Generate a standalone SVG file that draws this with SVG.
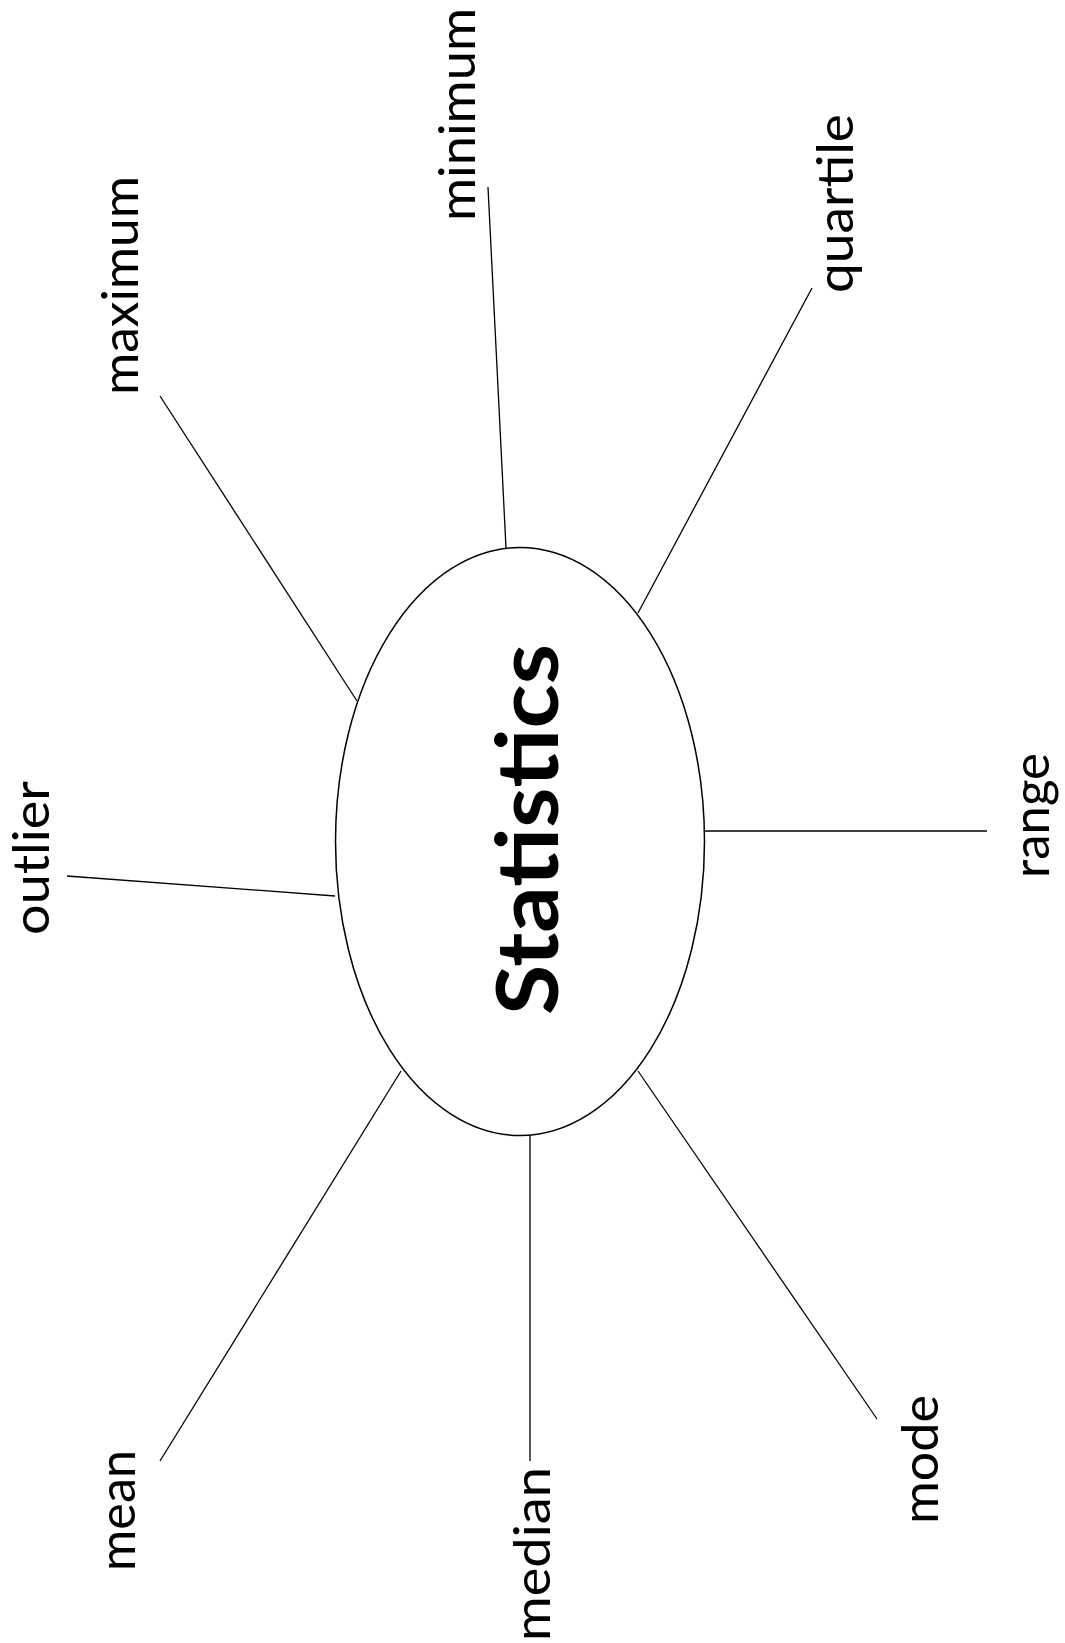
<svg xmlns="http://www.w3.org/2000/svg" width="1065" height="1643" viewBox="0 0 1065 1643">
<style>
.lbl{font-family:"Lato","Liberation Sans",sans-serif;font-size:50.5px;fill:#000}
.ttl{font-family:"Lato","Liberation Sans",sans-serif;font-size:87px;font-weight:bold;fill:#000}
.cn line{stroke:#000;stroke-width:1.3;fill:none}
</style>
<rect width="1065" height="1643" fill="#fff"/>
<g id="connectors" class="cn">
<line x1="488" y1="187" x2="506" y2="548"/>
<line x1="812" y1="288" x2="638" y2="613"/>
<line x1="160" y1="396" x2="357" y2="701"/>
<line x1="704" y1="831" x2="987" y2="831"/>
<line x1="67" y1="876" x2="335" y2="896"/>
<line x1="160" y1="1461" x2="401" y2="1071"/>
<line x1="530" y1="1135" x2="530" y2="1461"/>
<line x1="877" y1="1419" x2="638" y2="1071"/>
</g>
<g id="statistics">
<ellipse cx="520" cy="841.5" rx="184.5" ry="294" fill="#fff" stroke="#000" stroke-width="1.5"/>
<text class="ttl" transform="translate(558,1015) rotate(-90)" textLength="371" lengthAdjust="spacingAndGlyphs">Statistics</text>
</g>
<g id="minimum"><text class="lbl" transform="translate(475,221) rotate(-90)" textLength="213" lengthAdjust="spacingAndGlyphs">minimum</text></g>
<g id="quartile"><text class="lbl" transform="translate(853,293) rotate(-90)" textLength="179" lengthAdjust="spacingAndGlyphs">quartile</text></g>
<g id="maximum"><text class="lbl" transform="translate(138,395) rotate(-90)" textLength="219" lengthAdjust="spacingAndGlyphs">maximum</text></g>
<g id="outlier"><text class="lbl" transform="translate(49,935) rotate(-90)" textLength="154" lengthAdjust="spacingAndGlyphs">outlier</text></g>
<g id="range"><text class="lbl" transform="translate(1049,878) rotate(-90)" textLength="125" lengthAdjust="spacingAndGlyphs">range</text></g>
<g id="mean"><text class="lbl" transform="translate(135,1571) rotate(-90)" textLength="121" lengthAdjust="spacingAndGlyphs">mean</text></g>
<g id="median"><text class="lbl" transform="translate(550,1641) rotate(-90)" textLength="174" lengthAdjust="spacingAndGlyphs">median</text></g>
<g id="mode"><text class="lbl" transform="translate(938,1524) rotate(-90)" textLength="129" lengthAdjust="spacingAndGlyphs">mode</text></g>
</svg>
